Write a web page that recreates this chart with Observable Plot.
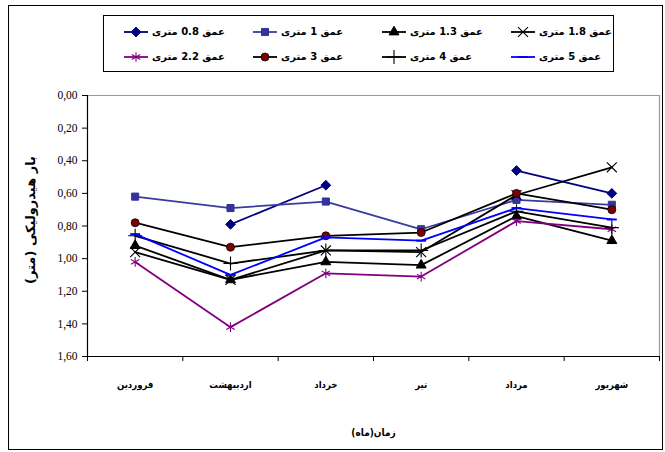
<!DOCTYPE html>
<html>
<head>
<meta charset="utf-8">
<script src="https://cdn.jsdelivr.net/npm/d3@7"></script>
<script src="https://cdn.jsdelivr.net/npm/@observablehq/plot@0.6"></script>
<style>
  html, body { margin: 0; padding: 0; background: #fff; }
  #wrap { position: relative; width: 665px; height: 452px; overflow: hidden; background: #fff; }
  #frame { position: absolute; left: 8px; top: 5px; width: 655px; height: 445px; border: 1px solid #000; box-sizing: border-box; pointer-events: none; }
  #legend { position: absolute; left: 103px; top: 15px; width: 511px; height: 57px; border: 1px solid #000; box-sizing: border-box; background: #fff;
            display: grid; grid-template-columns: repeat(4, 129px); grid-template-rows: 25px 25px; padding: 3px 0 0 19px; }
  .item { display: flex; align-items: center; direction: ltr; }
  .item span { direction: rtl; font-family: "DejaVu Sans", sans-serif; font-weight: bold; font-size: 10px; margin-left: 3px; white-space: nowrap; }
  #chart { position: absolute; left: 0; top: 0; }
  #chart g[aria-label="y-axis tick label"] text { font-family: "Liberation Serif", serif; font-size: 11.5px; }
  #ytitle { position: absolute; left: 30px; top: 220px; transform: translate(-50%, -50%) rotate(-90deg);
            font-family: "DejaVu Sans", sans-serif; font-weight: bold; font-size: 13px; white-space: nowrap; direction: rtl; }
</style>
</head>
<body>
<div id="wrap">
  <div id="chart"></div>
  <div id="legend"></div>
  <div id="ytitle"></div>
  <div id="frame"></div>
</div>
<script>
// ---- data ----
const months = ["فروردین", "اردیبهشت", "خرداد", "تیر", "مرداد", "شهریور"];
const seriesNames = ["عمق 0.8 متری", "عمق 1 متری", "عمق 1.3 متری", "عمق 1.8 متری",
                     "عمق 2.2 متری", "عمق 3 متری", "عمق 4 متری", "عمق 5 متری"];
const depth08 = [null, 0.79, 0.55, null, 0.46, 0.60];
const depth1  = [0.62, 0.69, 0.65, 0.82, 0.64, 0.67];
const depth13 = [0.92, 1.13, 1.02, 1.04, 0.74, 0.89];
const depth18 = [0.96, 1.13, 0.95, 0.96, 0.61, 0.44];
const depth22 = [1.02, 1.42, 1.09, 1.11, 0.77, 0.82];
const depth3  = [0.78, 0.93, 0.86, 0.84, 0.60, 0.70];
const depth4  = [0.86, 1.03, 0.95, 0.95, 0.71, 0.81];
const depth5  = [0.85, 1.10, 0.87, 0.89, 0.69, 0.76];
const yTicks = [0, 0.2, 0.4, 0.6, 0.8, 1.0, 1.2, 1.4, 1.6];
const yTitle = "بار هیدرولیکی (متر)";
const xTitle = "زمان(ماه)";

const allValues = [depth08, depth1, depth13, depth18, depth22, depth3, depth4, depth5];

// ---- styles ----
const dash = { draw(ctx, size) { const w = Math.sqrt(size) * 0.8; ctx.moveTo(-w, 0); ctx.lineTo(w, 0); } };
const styles = [
  { line: "#000080", symbol: "diamond2", fill: "#000080", stroke: "#000080", r: 4.4, sw: 1 },
  { line: "#3b3b9e", symbol: "square",   fill: "#333399", stroke: "#333399", r: 4.0, sw: 1 },
  { line: "#000000", symbol: "triangle", fill: "#000000", stroke: "#000000", r: 3.7, sw: 1 },
  { line: "#000000", symbol: "times",    fill: "none",    stroke: "#000000", r: 4.6, sw: 1.1 },
  { line: "#800080", symbol: "asterisk", fill: "none",    stroke: "#800080", r: 4.6, sw: 1.1 },
  { line: "#000000", symbol: "circle",   fill: "#800000", stroke: "#000000", r: 4.0, sw: 0.8 },
  { line: "#000000", symbol: "plus",     fill: "none",    stroke: "#000000", r: 4.6, sw: 1.1 },
  { line: "#0000ff", symbol: dash,       fill: "none",    stroke: "#0000ff", r: 3.5, sw: 2 }
];

const seriesMarks = [];
allValues.forEach((vals, s) => {
  const rows = vals.map((v, i) => ({ i, v }));
  const st = styles[s];
  seriesMarks.push(Plot.line(rows, { x: "i", y: "v", stroke: st.line, strokeWidth: 1.8 }));
  seriesMarks.push(Plot.dot(rows.filter(d => d.v != null), {
    x: "i", y: "v", symbol: () => st.symbol, r: st.r, fill: st.fill, stroke: st.stroke, strokeWidth: st.sw
  }));
});

const boundaries = d3.range(-0.5, months.length, 1);
const fmt = v => d3.format(".2f")(v).replace(".", ",");
const monthRows = months.map((m, i) => ({ i, m }));

const chart = Plot.plot({
  width: 665, height: 452,
  marginLeft: 87, marginRight: 6, marginTop: 95, marginBottom: 96,
  x: { type: "linear", domain: [-0.5, months.length - 0.5] },
  y: { domain: [0, 1.6], reverse: true },
  style: { background: "transparent", overflow: "visible" },
  marks: [
    Plot.ruleY([0], { stroke: "#9a9a9a", strokeWidth: 1.2 }),
    Plot.ruleX([months.length - 0.5], { stroke: "#9a9a9a", strokeWidth: 1.2 }),
    Plot.axisY({ ticks: yTicks, tickFormat: fmt, tickSize: 5, tickPadding: 5, label: null,
                 fontSize: 11.5, fontFamily: "Liberation Serif", stroke: "#000" }),
    Plot.axisX({ ticks: boundaries, tickFormat: () => "", tickSize: 5, label: null }),
    Plot.ruleX([-0.5], { stroke: "#000", strokeWidth: 1.2 }),
    Plot.ruleY([1.6], { stroke: "#000", strokeWidth: 1.2 }),
    ...seriesMarks,
    Plot.text(monthRows, { x: "i", text: "m", frameAnchor: "bottom", dy: 31,
                           fontFamily: "DejaVu Sans Condensed", fontWeight: "bold", fontSize: 9.5, fill: "#000" }),
    Plot.text([xTitle], { frameAnchor: "bottom", dy: 79, fontFamily: "DejaVu Sans Condensed",
                          fontWeight: "bold", fontSize: 10, fill: "#000" })
  ]
});
document.getElementById("chart").appendChild(chart);
document.getElementById("ytitle").textContent = yTitle;

// ---- legend (HTML) ----
const legend = d3.select("#legend");
const symMap = { diamond2: d3.symbolDiamond2, square: d3.symbolSquare, triangle: d3.symbolTriangle,
                 times: d3.symbolTimes, asterisk: d3.symbolAsterisk, circle: d3.symbolCircle, plus: d3.symbolPlus };
seriesNames.forEach((name, s) => {
  const st = styles[s];
  const item = legend.append("div").attr("class", "item");
  const svg = item.append("svg").attr("width", 26).attr("height", 14);
  svg.append("line").attr("x1", 1).attr("x2", 25).attr("y1", 7).attr("y2", 7)
     .attr("stroke", st.line).attr("stroke-width", 1.8);
  const type = typeof st.symbol === "string" ? symMap[st.symbol] : st.symbol;
  svg.append("path").attr("transform", "translate(13,7)")
     .attr("d", d3.symbol(type, Math.PI * st.r * st.r)())
     .attr("fill", st.fill).attr("stroke", st.stroke).attr("stroke-width", st.sw);
  item.append("span").text(name);
});
</script>
</body>
</html>
